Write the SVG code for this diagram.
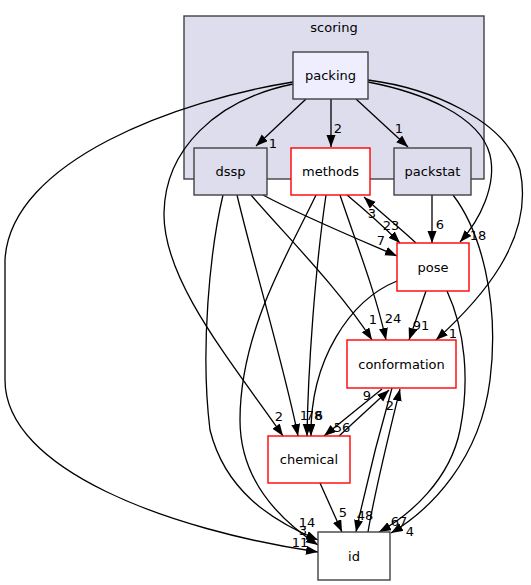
<svg xmlns="http://www.w3.org/2000/svg" width="531" height="585" viewBox="0 0 531 585">
<style>
text{font-family:"DejaVu Sans",sans-serif;font-size:13px;fill:#000}
.nt{text-anchor:middle}
.el{text-anchor:middle;font-size:13px}
.n{stroke-width:1.4}
.e{fill:none;stroke:#000;stroke-width:1.3;marker-end:url(#ah)}
</style>
<defs>
<marker id="ah" markerUnits="userSpaceOnUse" markerWidth="13" markerHeight="10" refX="12" refY="4.5" orient="auto">
<path d="M0,0 L12,4.5 L0,9 z" fill="#000"/>
</marker>
</defs>
<rect width="531" height="585" fill="#fff"/>
<g id="cluster_scoring">
<rect x="184" y="16" width="300" height="163" fill="#ddddee" stroke="#404040" stroke-width="1.4"/>
<text class="nt" x="334" y="32">scoring</text>
</g>
<g id="connectors">
<path class="e" d="M306,99 L256,146"/>
<path class="e" d="M331,99 L331,147"/>
<path class="e" d="M356,99 L408,147"/>
<path class="e" d="M368,82 C420,92 480,115 490,155 C497,185 480,220 460,242"/>
<path class="e" d="M368,80 C430,88 505,120 520,170 C535,240 480,300 436,340"/>
<path class="e" d="M293,84 C215,100 165,150 164,213 C163,280 230,360 283,436"/>
<path class="e" d="M293,82 C180,100 10,160 5,260 L5,380 C5,470 170,530 318,552"/>
<path class="e" d="M263,195 C300,215 360,240 397,256"/>
<path class="e" d="M251,195 C290,240 340,290 372,340"/>
<path class="e" d="M237,195 C255,270 285,370 298,436"/>
<path class="e" d="M223,195 C210,250 200,350 210,430 C225,490 270,520 318,540"/>
<path class="e" d="M316,195 C290,250 240,330 240,420 C240,480 280,520 318,545"/>
<path class="e" d="M347,195 C365,210 385,228 400,243"/>
<path class="e" d="M416,243 C400,228 380,212 364,197"/>
<path class="e" d="M340,195 C355,240 375,290 386,340"/>
<path class="e" d="M326,195 C315,270 308,370 307,436"/>
<path class="e" d="M397,281 C350,300 310,360 311,436"/>
<path class="e" d="M426,291 L409,340"/>
<path class="e" d="M447,291 C465,330 470,380 460,430 C450,480 410,515 379,532"/>
<path class="e" d="M432,195 L432,243"/>
<path class="e" d="M453,195 C480,230 500,300 490,380 C480,460 430,510 391,533"/>
<path class="e" d="M382,389 L324,436"/>
<path class="e" d="M339,436 L389,390"/>
<path class="e" d="M392,388 C380,430 365,490 356,532"/>
<path class="e" d="M368,532 C375,490 390,430 400,389"/>
<path class="e" d="M320,483 L342,532"/>
<text class="el" x="273" y="148">1</text>
<text class="el" x="338" y="133">2</text>
<text class="el" x="399" y="133">1</text>
<text class="el" x="478" y="240">18</text>
<text class="el" x="453" y="338">1</text>
<text class="el" x="279" y="421">2</text>
<text class="el" x="300" y="547">11</text>
<text class="el" x="381" y="245">7</text>
<text class="el" x="373" y="324">1</text>
<text class="el" x="304" y="420">1</text>
<text class="el" x="314" y="420">78</text>
<text class="el" x="319" y="420">6</text>
<text class="el" x="307" y="527">14</text>
<text class="el" x="303" y="535">3</text>
<text class="el" x="391" y="230">23</text>
<text class="el" x="372" y="218">3</text>
<text class="el" x="393" y="323">24</text>
<text class="el" x="421" y="330">91</text>
<text class="el" x="399" y="526">67</text>
<text class="el" x="440" y="229">6</text>
<text class="el" x="410" y="536">4</text>
<text class="el" x="342" y="432">56</text>
<text class="el" x="367" y="400">9</text>
<text class="el" x="365" y="520">48</text>
<text class="el" x="390" y="410">2</text>
<text class="el" x="343" y="517">5</text>
</g>
<g id="node_packing"><rect class="n" x="293" y="52" width="75" height="47" fill="#eeeeff" stroke="#404040"/><text class="nt" x="330.5" y="80">packing</text></g>
<g id="node_dssp"><rect class="n" x="194" y="148" width="73" height="47" fill="#ddddee" stroke="#404040"/><text class="nt" x="230.5" y="176">dssp</text></g>
<g id="node_methods"><rect class="n" x="291" y="148" width="79" height="47" fill="#fff" stroke="#ff0000"/><text class="nt" x="330.5" y="176">methods</text></g>
<g id="node_packstat"><rect class="n" x="394" y="148" width="77" height="47" fill="#ddddee" stroke="#404040"/><text class="nt" x="432.5" y="176">packstat</text></g>
<g id="node_pose"><rect class="n" x="397" y="243" width="72" height="48" fill="#fff" stroke="#ff0000"/><text class="nt" x="433" y="271.5">pose</text></g>
<g id="node_conformation"><rect class="n" x="347" y="340" width="109" height="48" fill="#fff" stroke="#ff0000"/><text class="nt" x="401.5" y="368.5">conformation</text></g>
<g id="node_chemical"><rect class="n" x="268" y="436" width="82" height="47" fill="#fff" stroke="#ff0000"/><text class="nt" x="309" y="464">chemical</text></g>
<g id="node_id"><rect class="n" x="318" y="532" width="72" height="48" fill="#fff" stroke="#404040"/><text class="nt" x="354" y="560.5">id</text></g>
</svg>
